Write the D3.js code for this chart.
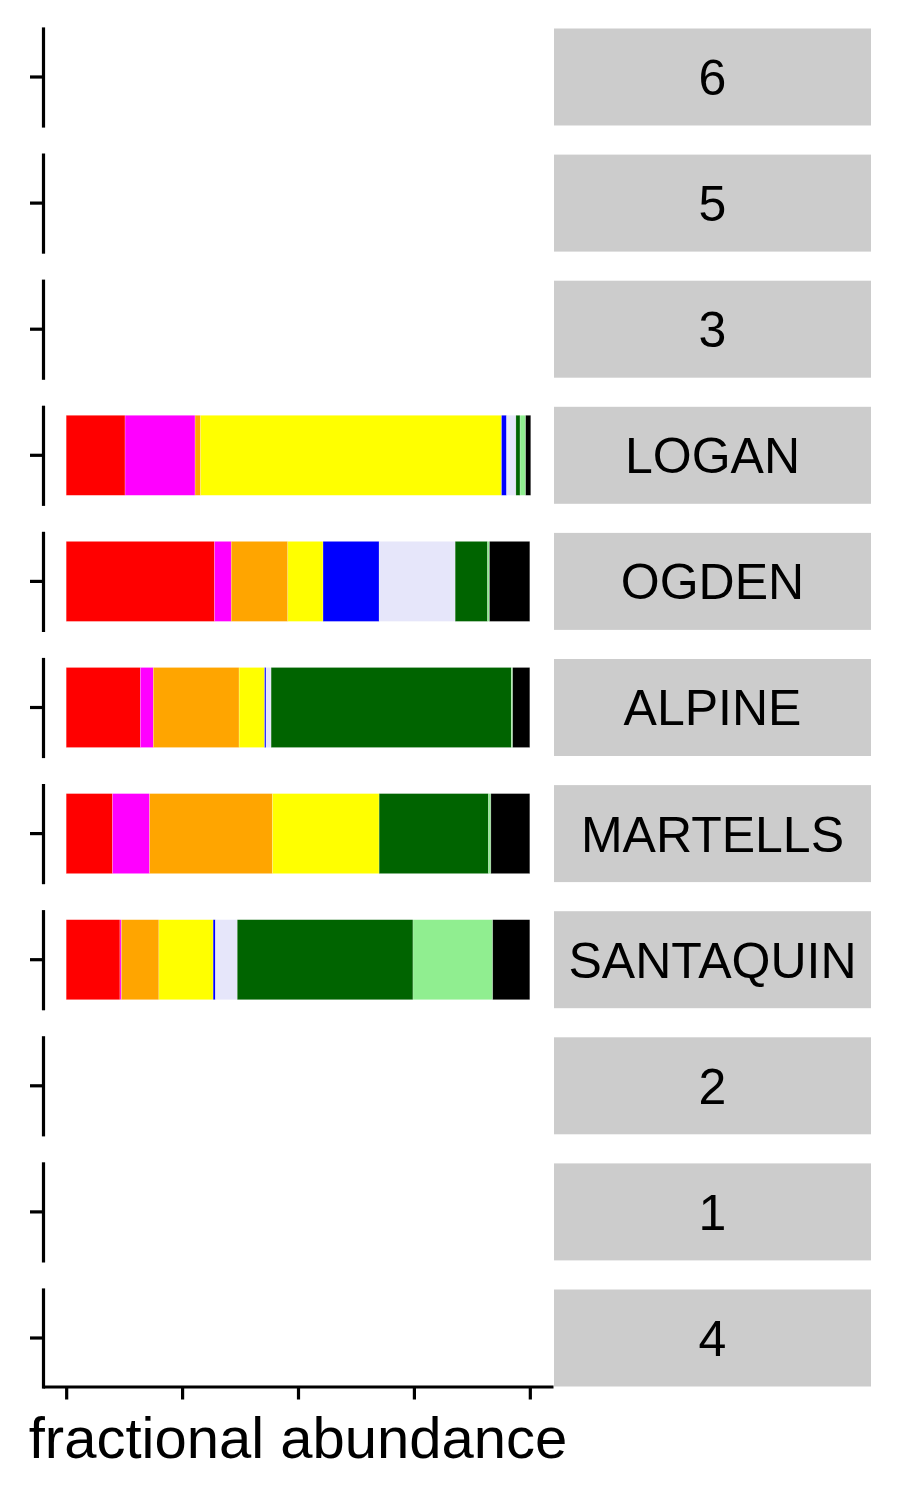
<!DOCTYPE html>
<html><head><meta charset="utf-8">
<script src="https://cdn.jsdelivr.net/npm/d3@7"></script>
<style>body{margin:0;background:#fff}svg{display:block}</style>
</head><body>
<script>
// facet order (top to bottom)
const facets = ["6","5","3","LOGAN","OGDEN","ALPINE","MARTELLS","SANTAQUIN","2","1","4"];
// stack order (left to right) and fill colours
const groups = ["red","magenta","orange","yellow","blue","lavender","darkgreen","lightgreen","black"];
const groupColors = ["#FF0000","#FF00FF","#FFA500","#FFFF00","#0000FF","#E6E6FA","#006400","#90EE90","#000000"];
// fractional abundance per facet, one array per group
const red        = [0,0,0,0.127,0.320,0.160,0.100,0.116,0,0,0];
const magenta    = [0,0,0,0.151,0.036,0.028,0.080,0.003,0,0,0];
const orange     = [0,0,0,0.012,0.122,0.185,0.265,0.081,0,0,0];
const yellow     = [0,0,0,0.649,0.076,0.055,0.230,0.117,0,0,0];
const blue       = [0,0,0,0.011,0.121,0.003,0.000,0.005,0,0,0];
const lavender   = [0,0,0,0.020,0.164,0.011,0.000,0.047,0,0,0];
const darkgreen  = [0,0,0,0.009,0.070,0.518,0.236,0.379,0,0,0];
const lightgreen = [0,0,0,0.012,0.004,0.003,0.005,0.172,0,0,0];
const black      = [0,0,0,0.011,0.087,0.037,0.084,0.080,0,0,0];
const xTicks = [0,0.25,0.5,0.75,1];
const xTitle = "fractional abundance";

const seriesVals = {red,magenta,orange,yellow,blue,lavender,darkgreen,lightgreen,black};
const rows = facets.map((f,i)=>{const r={facet:f}; groups.forEach(g=>r[g]=seriesVals[g][i]); return r;});

const W=900,H=1500;
const svg=d3.select("body").append("svg").attr("width",W).attr("height",H);
const font="'Liberation Sans', Arial, Helvetica, sans-serif";

const x=d3.scaleLinear().domain([-0.05,1.05]).range([43,553]);
const fy=d3.scaleBand().domain(facets).range([28.5,1386.5]).paddingInner(0.2308).paddingOuter(0);
const color=d3.scaleOrdinal().domain(groups).range(groupColors);
const stacked=d3.stack().keys(groups)(rows);

const stripX0=554, stripX1=871;
const lw=3.2;

facets.forEach((f,i)=>{
  const g=svg.append("g").attr("transform",`translate(0,${fy(f)})`);
  const ph=fy.bandwidth();
  const yb=d3.scaleBand().domain([f]).range([0,ph]).paddingInner(0).paddingOuter(0.106);
  // bars
  stacked.forEach(s=>{
    const d=s[i];
    if(d[1]-d[0]<=0) return;
    g.append("rect")
      .attr("x",x(d[0])).attr("width",x(d[1])-x(d[0]))
      .attr("y",yb(f)).attr("height",yb.bandwidth())
      .attr("fill",color(s.key))
      .attr("stroke","rgba(255,255,255,0.35)").attr("stroke-width",0.6);
  });
  // y axis
  const ya=g.append("g").attr("transform","translate(43,0)")
    .call(d3.axisLeft(yb).tickSize(13).tickSizeOuter(0).tickFormat(""));
  ya.selectAll("path,line").attr("stroke","#000").attr("stroke-width",lw);
  ya.select("path").attr("stroke-linecap","square");
  // strip
  g.append("rect").attr("x",stripX0).attr("y",0).attr("width",stripX1-stripX0).attr("height",ph).attr("fill","#cccccc");
  g.append("text").attr("x",(stripX0+stripX1)/2).attr("y",ph/2).attr("dy","0.36em")
    .attr("text-anchor","middle").attr("font-family",font).attr("font-size",50).attr("fill","#000").text(f);
});

// x axis
const xa=svg.append("g").attr("transform",`translate(0,${fy.range()[1]})`)
  .call(d3.axisBottom(x).tickValues(xTicks).tickSize(13).tickSizeOuter(0).tickFormat(""));
xa.selectAll("path,line").attr("stroke","#000").attr("stroke-width",lw);
svg.append("text").attr("x",(x.range()[0]+x.range()[1])/2).attr("y",1458)
  .attr("text-anchor","middle").attr("font-family",font).attr("font-size",58).attr("fill","#000").text(xTitle);
</script>
</body></html>
